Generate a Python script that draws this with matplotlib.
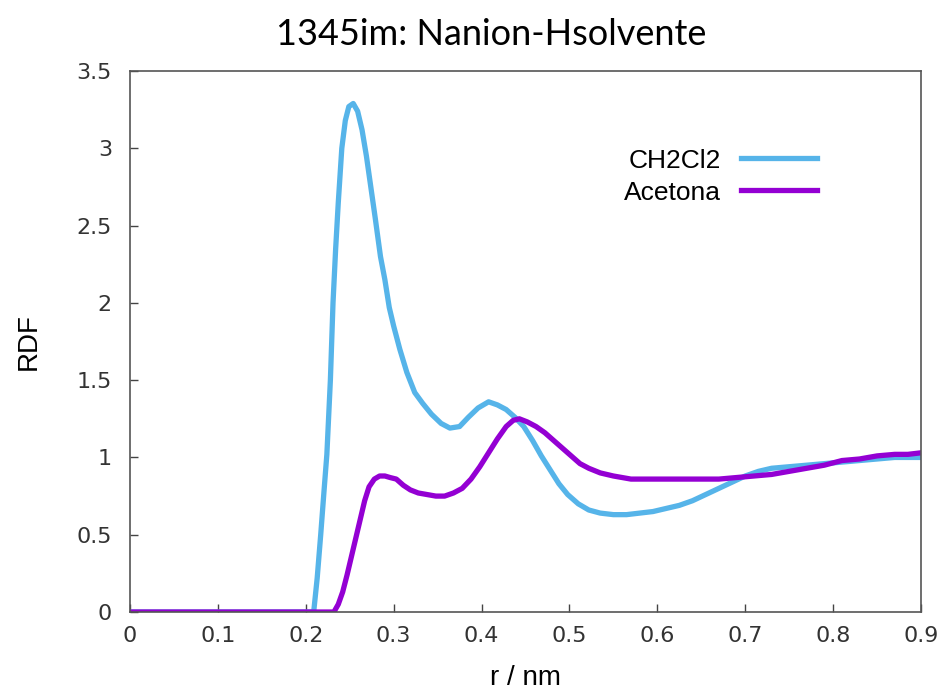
import matplotlib
matplotlib.use("Agg")
import matplotlib.pyplot as plt

# RDF values
r_ch2cl2 = [0.0, 0.10, 0.20, 0.209, 0.213, 0.217, 0.221, 0.224, 0.228, 0.231, 0.234,
            0.237, 0.241, 0.245, 0.249, 0.254, 0.259, 0.264, 0.269, 0.274, 0.279,
            0.285, 0.290, 0.295, 0.300, 0.307, 0.315, 0.324, 0.333, 0.343, 0.354,
            0.364, 0.375, 0.385, 0.396, 0.408, 0.418, 0.428, 0.438, 0.448, 0.458,
            0.468, 0.478, 0.488, 0.498, 0.51, 0.522, 0.535, 0.55, 0.565, 0.58,
            0.595, 0.61, 0.625, 0.64, 0.655, 0.67, 0.685, 0.70, 0.715, 0.73,
            0.75, 0.77, 0.79, 0.81, 0.83, 0.85, 0.87, 0.885, 0.9]
g_ch2cl2 = [0.0, 0.0, 0.0, 0.0, 0.22, 0.50, 0.80, 1.02, 1.50, 2.00, 2.35,
            2.65, 3.00, 3.18, 3.27, 3.29, 3.24, 3.12, 2.95, 2.75, 2.55,
            2.30, 2.15, 1.97, 1.85, 1.70, 1.55, 1.42, 1.35, 1.28, 1.22,
            1.19, 1.20, 1.26, 1.32, 1.36, 1.34, 1.31, 1.26, 1.20, 1.11,
            1.01, 0.92, 0.83, 0.76, 0.70, 0.66, 0.64, 0.63, 0.63, 0.64,
            0.65, 0.67, 0.69, 0.72, 0.76, 0.80, 0.84, 0.88, 0.91, 0.93,
            0.94, 0.95, 0.96, 0.97, 0.98, 0.99, 1.00, 1.00, 1.00]

r_acetona = [0.0, 0.10, 0.20, 0.232, 0.237, 0.242, 0.247, 0.252, 0.257, 0.262, 0.267,
             0.272, 0.278, 0.284, 0.290, 0.296, 0.303, 0.311, 0.319, 0.328, 0.338,
             0.348, 0.358, 0.368, 0.378, 0.388, 0.398, 0.408, 0.418, 0.428, 0.436,
             0.443, 0.452, 0.462, 0.472, 0.482, 0.492, 0.502, 0.512, 0.522, 0.535,
             0.55, 0.57, 0.59, 0.61, 0.63, 0.65, 0.67, 0.69, 0.71, 0.73,
             0.75, 0.77, 0.79, 0.81, 0.83, 0.85, 0.87, 0.885, 0.9]
g_acetona = [0.0, 0.0, 0.0, 0.0, 0.05, 0.13, 0.24, 0.36, 0.48, 0.60, 0.72,
             0.81, 0.86, 0.88, 0.88, 0.87, 0.86, 0.82, 0.79, 0.77, 0.76,
             0.75, 0.75, 0.77, 0.80, 0.86, 0.94, 1.03, 1.12, 1.20, 1.24,
             1.25, 1.23, 1.20, 1.16, 1.11, 1.06, 1.01, 0.96, 0.93, 0.90,
             0.88, 0.86, 0.86, 0.86, 0.86, 0.86, 0.86, 0.87, 0.88, 0.89,
             0.91, 0.93, 0.95, 0.98, 0.99, 1.01, 1.02, 1.02, 1.03]

x_ticks = [0, 0.1, 0.2, 0.3, 0.4, 0.5, 0.6, 0.7, 0.8, 0.9]
x_tick_labels = ["0", "0.1", "0.2", "0.3", "0.4", "0.5", "0.6", "0.7", "0.8", "0.9"]
y_ticks = [0, 0.5, 1, 1.5, 2, 2.5, 3, 3.5]
y_tick_labels = ["0", "0.5", "1", "1.5", "2", "2.5", "3", "3.5"]

fig = plt.figure(figsize=(9.46, 6.95), dpi=100)
ax = fig.add_axes([0.1374, 0.1194, 0.8362, 0.7784])

ax.plot(r_ch2cl2, g_ch2cl2, color="#56b4e9", lw=3.8, label="CH2Cl2")
ax.plot(r_acetona, g_acetona, color="#9400d3", lw=3.8, label="Acetona")

ax.set_xlim(0, 0.9)
ax.set_ylim(0, 3.5)
ax.set_xticks(x_ticks, labels=x_tick_labels)
ax.set_yticks(y_ticks, labels=y_tick_labels)
ax.tick_params(direction="in", length=6, width=1, labelsize=16,
               labelcolor="#333333", color="#444444")
ax.tick_params(axis="x", pad=10)
ax.tick_params(axis="y", pad=13)
for s in ax.spines.values():
    s.set_color("#555555")
    s.set_linewidth(1.2)

ax.set_xlabel("r / nm", fontsize=20, family="Liberation Sans", labelpad=14)
ax.set_ylabel("RDF", fontsize=20, family="Liberation Sans", labelpad=25)

fig.text(0.519, 0.95, "1345im: Nanion-Hsolvente", fontsize=26,
         family="Lato", ha="center", va="center")

leg = ax.legend(loc="upper right", bbox_to_anchor=(0.882, 0.876), frameon=False,
                markerfirst=False, handlelength=2.9, handletextpad=0.75,
                prop={"family": "Liberation Sans", "size": 19},
                labelspacing=0.3, borderaxespad=0.0)

fig.savefig("out.png", dpi=100)
